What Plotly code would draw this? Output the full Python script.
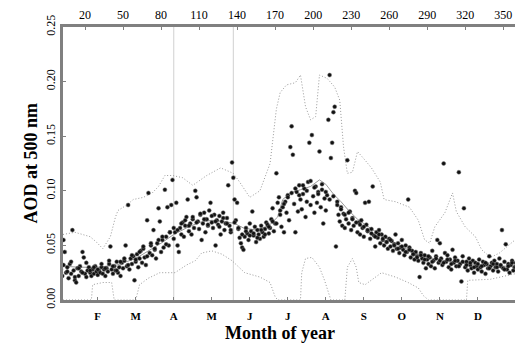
import plotly.graph_objects as go

# ---------------- data ----------------
days_a = list(range(1, 361))
aod_a = [
    0.028, 0.022, 0.055, 0.044, 0.025, 0.030, 0.020, 0.033, 0.024, 0.064,
    0.027, 0.018, 0.016, 0.029, 0.022, 0.031, 0.026, 0.044, 0.039, 0.024,
    0.021, 0.027, 0.030, 0.025, 0.022, 0.028, 0.024, 0.031, 0.026, 0.023,
    0.027, 0.025, 0.030, 0.024, 0.028, 0.022, 0.029, 0.026, 0.033, 0.049,
    0.028, 0.024, 0.031, 0.027, 0.035, 0.025, 0.030, 0.022, 0.034, 0.029,
    0.036, 0.050, 0.031, 0.087, 0.028, 0.038, 0.033, 0.040, 0.018, 0.035,
    0.042, 0.030, 0.038, 0.045, 0.034, 0.047, 0.039, 0.032, 0.073, 0.098,
    0.043, 0.050, 0.041, 0.064, 0.046, 0.038, 0.052, 0.084, 0.072, 0.044,
    0.055, 0.048, 0.101, 0.058, 0.085, 0.050, 0.062, 0.087, 0.110, 0.056,
    0.062, 0.089, 0.050, 0.044, 0.066, 0.060, 0.071, 0.058, 0.068, 0.076,
    0.092, 0.063, 0.070, 0.060, 0.074, 0.066, 0.100, 0.094, 0.072, 0.065,
    0.078, 0.055, 0.070, 0.080, 0.062, 0.074, 0.068, 0.082, 0.089, 0.071,
    0.066, 0.078, 0.050, 0.073, 0.069, 0.077, 0.060, 0.072, 0.080, 0.064,
    0.070, 0.075, 0.105, 0.068, 0.062, 0.126, 0.112, 0.092, 0.073, 0.089,
    0.065, 0.057, 0.052, 0.048, 0.046, 0.058, 0.066, 0.061, 0.055, 0.070,
    0.063, 0.081, 0.059, 0.067, 0.053, 0.064, 0.060, 0.056, 0.068, 0.062,
    0.058, 0.065, 0.071, 0.069, 0.061, 0.066, 0.074, 0.084, 0.063, 0.070,
    0.116, 0.089, 0.094, 0.078, 0.067, 0.085, 0.062, 0.090, 0.080, 0.096,
    0.073, 0.140, 0.159, 0.133, 0.088, 0.062, 0.099, 0.081, 0.105, 0.092,
    0.083, 0.097, 0.102, 0.076, 0.090, 0.108, 0.144, 0.087, 0.151, 0.095,
    0.080, 0.104, 0.089, 0.099, 0.136, 0.085, 0.101, 0.070, 0.093, 0.082,
    0.096, 0.165, 0.206, 0.130, 0.144, 0.172, 0.177, 0.049, 0.090, 0.078,
    0.072, 0.085, 0.068, 0.079, 0.066, 0.074, 0.128, 0.070, 0.081, 0.064,
    0.075, 0.068, 0.100, 0.098, 0.062, 0.071, 0.060, 0.073, 0.066, 0.058,
    0.089, 0.069, 0.063, 0.090, 0.056, 0.065, 0.104, 0.059, 0.049, 0.062,
    0.057, 0.064, 0.052, 0.060, 0.055, 0.050, 0.058, 0.053, 0.047, 0.056,
    0.049, 0.054, 0.045, 0.051, 0.060, 0.047, 0.052, 0.043, 0.048, 0.055,
    0.046, 0.041, 0.050, 0.044, 0.092, 0.048, 0.039, 0.045, 0.042, 0.037,
    0.044, 0.040, 0.036, 0.021, 0.043, 0.038, 0.034, 0.041, 0.029, 0.037,
    0.033, 0.039, 0.031, 0.045, 0.036, 0.029, 0.040, 0.055, 0.034, 0.052,
    0.038, 0.032, 0.125, 0.043, 0.035, 0.041, 0.030, 0.037, 0.028, 0.046,
    0.034, 0.039, 0.031, 0.036, 0.117, 0.033, 0.017, 0.040, 0.084, 0.030,
    0.035, 0.027, 0.038, 0.032, 0.029, 0.036, 0.025, 0.034, 0.031, 0.028,
    0.037, 0.030, 0.026, 0.035, 0.032, 0.024, 0.033, 0.029, 0.040, 0.031,
    0.034, 0.027, 0.036, 0.030, 0.033, 0.026, 0.038, 0.031, 0.064, 0.029,
    0.035, 0.051, 0.028, 0.033, 0.025, 0.032, 0.036, 0.027, 0.030, 0.034,
]

days_b = list(range(3, 361, 3))
aod_b = [
    0.032, 0.026, 0.035, 0.021, 0.029, 0.025, 0.034, 0.027, 0.030, 0.028,
    0.033, 0.029, 0.036, 0.031, 0.027, 0.035, 0.038, 0.032, 0.041, 0.037,
    0.044, 0.049, 0.040, 0.052, 0.047, 0.055, 0.058, 0.051, 0.062, 0.066,
    0.064, 0.070, 0.073, 0.068, 0.076, 0.071, 0.079, 0.074, 0.069, 0.077,
    0.072, 0.067, 0.075, 0.070, 0.064, 0.071, 0.066, 0.060, 0.063, 0.059,
    0.061, 0.057, 0.064, 0.060, 0.067, 0.072, 0.070, 0.082, 0.088, 0.094,
    0.098, 0.102, 0.096, 0.105, 0.100, 0.109, 0.103, 0.097, 0.106, 0.099,
    0.092, 0.095, 0.087, 0.083, 0.078, 0.080, 0.074, 0.071, 0.069, 0.067,
    0.064, 0.061, 0.058, 0.060, 0.056, 0.053, 0.055, 0.050, 0.047, 0.049,
    0.044, 0.046, 0.042, 0.039, 0.041, 0.037, 0.040, 0.035, 0.038, 0.036,
    0.034, 0.037, 0.033, 0.036, 0.031, 0.035, 0.032, 0.034, 0.030, 0.033,
    0.031, 0.034, 0.029, 0.033, 0.030, 0.032, 0.028, 0.031, 0.034, 0.030,
]

upper_days = [2.6, 12, 24, 29, 34, 40, 44, 46, 53, 58, 66, 73, 78, 83, 89, 97,
              105, 111, 116, 127, 137, 142, 150, 158, 162, 166, 171, 174, 179,
              186, 190, 194, 198, 202, 205, 211, 217, 221, 224, 227, 231, 235,
              241, 246, 253, 256, 265, 276, 283, 288, 292, 296, 304, 310, 313,
              320, 328, 333, 340, 347, 359.3]
upper_aod = [0.060, 0.062, 0.058, 0.053, 0.047, 0.058, 0.076, 0.082, 0.087,
             0.092, 0.094, 0.098, 0.104, 0.114, 0.114, 0.112, 0.105, 0.110,
             0.114, 0.121, 0.116, 0.108, 0.094, 0.100, 0.112, 0.125, 0.175,
             0.190, 0.197, 0.199, 0.206, 0.177, 0.165, 0.168, 0.206, 0.203,
             0.195, 0.183, 0.140, 0.116, 0.117, 0.136, 0.128, 0.121, 0.108,
             0.092, 0.090, 0.085, 0.073, 0.055, 0.052, 0.067, 0.080, 0.098,
             0.081, 0.067, 0.058, 0.046, 0.039, 0.043, 0.055]

lower_days = [2.6, 25, 26, 34, 41, 43, 60, 63, 70, 79, 91, 100, 107, 112, 120,
              128, 136, 146, 158, 166, 170, 172, 190, 191, 194, 199, 205, 209,
              214, 225, 227, 231, 234, 236, 241, 254, 265, 275, 283, 287, 291,
              321, 322, 340, 359.3]
lower_aod = [0.0, 0.0, 0.014, 0.016, 0.016, 0.0, 0.0, 0.014, 0.020, 0.025,
             0.025, 0.032, 0.036, 0.043, 0.045, 0.042, 0.036, 0.025, 0.021,
             0.016, 0.003, 0.0, 0.0, 0.025, 0.038, 0.039, 0.030, 0.018, 0.0,
             0.0, 0.030, 0.038, 0.030, 0.016, 0.014, 0.025, 0.021, 0.016,
             0.011, 0.004, 0.0, 0.0, 0.018, 0.019, 0.024]

mean_days = [2.6, 15, 30, 45, 60, 70, 80, 90, 100, 110, 120, 130, 138, 145,
             155, 165, 172, 176, 182, 190, 198, 205, 210, 216, 222, 228, 235,
             245, 255, 265, 275, 285, 295, 305, 315, 325, 335, 345, 359.3]
mean_aod = [0.031, 0.030, 0.030, 0.032, 0.038, 0.045, 0.052, 0.060, 0.066,
            0.071, 0.073, 0.072, 0.070, 0.066, 0.064, 0.068, 0.076, 0.092,
            0.098, 0.101, 0.104, 0.110, 0.106, 0.097, 0.090, 0.082, 0.074,
            0.066, 0.058, 0.052, 0.046, 0.041, 0.038, 0.036, 0.034, 0.033,
            0.032, 0.031, 0.031]

vline_days = [90, 137]

month_days = [30, 60, 90, 120, 150, 180, 210, 240, 270, 300, 330]
month_labels = ["F", "M", "A", "M", "J", "J", "A", "S", "O", "N", "D"]
top_ticks = [20, 50, 80, 110, 140, 170, 200, 230, 260, 290, 320, 350]
y_ticks = [0.00, 0.05, 0.10, 0.15, 0.20, 0.25]

# ---------------- figure ----------------
SERIF = "Liberation Serif, Times New Roman, serif"
XR = [2.6, 359.3]
DOT = "1px,2px"

fig = go.Figure()

for d in vline_days:
    fig.add_trace(go.Scatter(x=[d, d], y=[0, 0.25], mode="lines",
                             line=dict(color="#d0d0d0", width=1),
                             hoverinfo="skip", showlegend=False))

fig.add_trace(go.Scatter(x=upper_days, y=upper_aod, mode="lines",
                         line=dict(color="#999999", width=1, dash=DOT),
                         showlegend=False))
fig.add_trace(go.Scatter(x=lower_days, y=lower_aod, mode="lines",
                         line=dict(color="#999999", width=1, dash=DOT),
                         showlegend=False))
fig.add_trace(go.Scatter(x=mean_days, y=mean_aod, mode="lines",
                         line=dict(color="#999999", width=1),
                         showlegend=False))

marker = dict(color="#111111", size=4, symbol="circle",
              line=dict(color="#777777", width=0.5))
fig.add_trace(go.Scatter(x=days_a, y=aod_a, mode="markers", marker=marker,
                         showlegend=False))
fig.add_trace(go.Scatter(x=days_b, y=aod_b, mode="markers", marker=marker,
                         showlegend=False))

# dummy trace for the top axis
fig.add_trace(go.Scatter(x=[XR[0]], y=[0], xaxis="x2", mode="markers",
                         marker=dict(opacity=0), showlegend=False,
                         hoverinfo="skip"))

axis_line = dict(showline=True, linecolor="#808080", linewidth=2.5,
                 mirror=False, showgrid=False, zeroline=False)

fig.update_layout(
    width=515, height=350,
    margin=dict(l=63, r=0, t=27, b=50),
    paper_bgcolor="white", plot_bgcolor="white",
    font=dict(family=SERIF, color="black", size=12),
    xaxis=dict(range=XR, tickmode="array", tickvals=month_days,
               ticktext=month_labels, ticks="inside", ticklen=3,
               tickcolor="#808080", ticklabelstandoff=4,
               tickfont=dict(family=SERIF, size=11, color="black", weight="bold"),
               **axis_line),
    xaxis2=dict(range=XR, overlaying="x", side="top", tickmode="array",
                tickvals=top_ticks, ticks="inside", ticklen=3,
                tickcolor="#808080",
                tickfont=dict(family=SERIF, size=12, color="black"),
                **axis_line),
    yaxis=dict(range=[0, 0.25], tickmode="array", tickvals=y_ticks,
               ticktext=[f"{v:.2f}" for v in y_ticks], ticks="inside",
               ticklen=3, tickcolor="#808080", tickangle=-90,
               tickfont=dict(family=SERIF, size=12, color="black"),
               **axis_line),
    annotations=[
        dict(text="<b>Month of year</b>", xref="paper", yref="paper",
             x=(280 - 63) / 452, y=-0.12, xanchor="center", yanchor="middle",
             showarrow=False, font=dict(family=SERIF, size=18, color="black")),
        dict(text="<b>AOD at 500 nm</b>", xref="paper", yref="paper",
             x=-0.073, y=0.5, xanchor="center", yanchor="middle",
             textangle=-90, showarrow=False,
             font=dict(family=SERIF, size=18, color="black")),
    ],
)

fig.write_html(
    "out.html",
    config={"displayModeBar": False},
    post_script="document.body.style.margin='0';document.body.style.overflow='hidden';",
)
